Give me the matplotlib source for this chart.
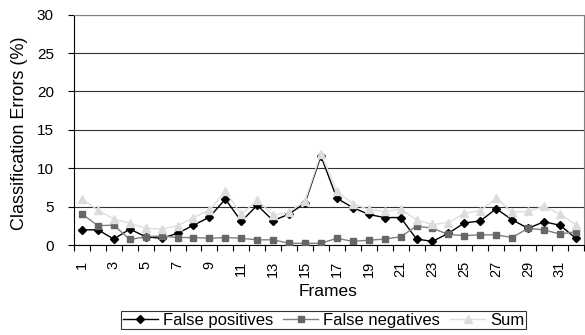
import matplotlib
matplotlib.use("Agg")
import matplotlib.pyplot as plt
from matplotlib.ticker import FixedLocator, NullFormatter

plt.rcParams['font.family'] = ['Liberation Sans', 'DejaVu Sans']

frames = list(range(1, 33))
false_positives = [2.0, 2.0, 0.8, 2.1, 1.1, 0.9, 1.55, 2.6, 3.65, 6.0,
                   3.1, 5.2, 3.2, 4.05, 5.5, 11.6, 6.1, 4.9, 4.0, 3.6,
                   3.6, 0.8, 0.5, 1.55, 2.9, 3.15, 4.75, 3.3, 2.2, 3.05,
                   2.6, 0.9]
false_negatives = [4.05, 2.55, 2.6, 0.75, 1.1, 1.2, 1.0, 1.0, 0.9, 1.0,
                   0.9, 0.7, 0.7, 0.25, 0.25, 0.25, 0.9, 0.5, 0.65, 0.8,
                   1.1, 2.5, 2.2, 1.4, 1.25, 1.35, 1.35, 1.0, 2.2, 2.0,
                   1.45, 1.75]
sum_errors = [6.05, 4.55, 3.4, 2.85, 2.2, 2.1, 2.55, 3.6, 4.55, 7.0,
              4.0, 5.9, 3.9, 4.3, 5.75, 11.9, 7.0, 5.4, 4.65, 4.4,
              4.7, 3.3, 2.7, 2.95, 4.15, 4.5, 6.1, 4.3, 4.4, 5.05,
              4.05, 2.65]
tick_labels = [str(f) for f in frames if f % 2 == 1]
tick_pos = [f for f in frames if f % 2 == 1]

fig = plt.figure(figsize=(5.85, 3.35), dpi=100)
ax = fig.add_axes([0.1265, 0.268, 0.8715, 0.6885])

ax.plot(frames, false_positives, color='black', marker='D', markersize=4.5,
        linewidth=1.0, label='False positives', zorder=3)
ax.plot(frames, false_negatives, color='#808080', marker='s', markersize=5,
        markerfacecolor='#666666', markeredgecolor='#666666',
        linewidth=1.0, label='False negatives', zorder=4)
ax.plot(frames, sum_errors, color='#dedede', marker='^', markersize=6,
        markerfacecolor='#dcdcdc', markeredgecolor='#dcdcdc',
        linewidth=1.0, label='Sum', zorder=5)

ax.set_xlim(0.5, 32.5)
ax.set_ylim(0, 30)
ax.set_yticks([0, 5, 10, 15, 20, 25, 30])
ax.yaxis.grid(True, color='#333333', linewidth=0.8)
ax.set_axisbelow(True)

ax.set_xticks(tick_pos)
ax.set_xticklabels(tick_labels, rotation=90)
ax.tick_params(axis='x', which='major', length=0, pad=11, labelsize=10.5)
ax.xaxis.set_minor_locator(FixedLocator([x + 0.5 for x in range(0, 33)]))
ax.xaxis.set_minor_formatter(NullFormatter())
ax.tick_params(axis='x', which='minor', length=4, width=0.8, direction='out')
ax.tick_params(axis='y', length=4, width=0.8, labelsize=11, pad=10.5)

for s in ['top', 'right']:
    ax.spines[s].set_color('#808080')
    ax.spines[s].set_linewidth(0.8)
ax.spines['left'].set_color('black')
ax.spines['bottom'].set_color('black')
ax.spines['left'].set_linewidth(0.8)
ax.spines['bottom'].set_linewidth(0.8)

ax.set_ylabel('Classification Errors (%)', fontsize=13)
ax.yaxis.set_label_coords((28 - 74) / 510, 0.487)
ax.set_xlabel('Frames', fontsize=12.5, va='top')
ax.xaxis.set_label_coords((328 - 74) / 510, (245.3 - 284) / 230.8)

leg = fig.legend(loc='upper right', bbox_to_anchor=(526 / 585, 1 - 311 / 335),
                 ncol=3, fontsize=12, frameon=True, fancybox=False,
                 edgecolor='black', handlelength=2.1, handletextpad=0.3,
                 columnspacing=0.6, borderpad=0.1, borderaxespad=0)
leg.get_frame().set_linewidth(0.8)

fig.savefig('out.png', dpi=100)
